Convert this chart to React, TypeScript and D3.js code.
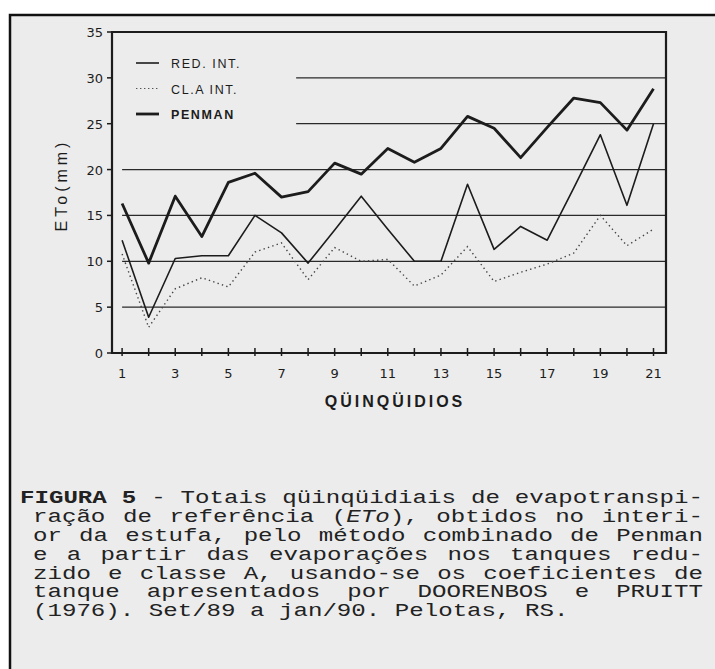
import React, { useEffect, useRef } from "react";
import * as d3 from "d3";

// quinquidios (5-day periods), Set/89 - jan/90
const periods = [1, 2, 3, 4, 5, 6, 7, 8, 9, 10, 11, 12, 13, 14, 15, 16, 17, 18, 19, 20, 21];
const redInt = [12.3, 3.9, 10.3, 10.6, 10.6, 15.0, 13.1, 9.8, 13.4, 17.1, 13.5, 10.0, 10.0, 18.4, 11.3, 13.8, 12.3, 18.0, 23.8, 16.1, 25.0];
const clAInt = [10.8, 2.8, 7.0, 8.2, 7.2, 11.0, 12.0, 8.0, 11.5, 10.0, 10.2, 7.3, 8.5, 11.6, 7.8, 8.8, 9.7, 10.9, 15.0, 11.7, 13.5];
const penman = [16.3, 9.8, 17.1, 12.7, 18.6, 19.6, 17.0, 17.6, 20.7, 19.5, 22.3, 20.8, 22.3, 25.8, 24.5, 21.3, 24.6, 27.8, 27.3, 24.3, 28.8];

const yTicks = [0, 5, 10, 15, 20, 25, 30, 35];
const xTickLabels = [1, 3, 5, 7, 9, 11, 13, 15, 17, 19, 21];
const gridValues = [5, 10, 15, 20, 25, 30];

const legendItems = ["RED. INT.", "CL.A INT.", "PENMAN"];

const captionLines = [
  "FIGURA 5 - Totais qüinqüidiais de evapotranspi-",
  "ração de referência (ETo), obtidos no interi-",
  "or da estufa, pelo método combinado de Penman",
  "e a partir das evaporações nos tanques redu-",
  "zido e classe A, usando-se os coeficientes de",
  "tanque apresentados por DOORENBOS e PRUITT",
  "(1976). Set/89 a jan/90. Pelotas, RS.",
];

const ink = "#1c1c1c";

export default function App() {
  const ref = useRef<SVGSVGElement>(null);

  useEffect(() => {
    const svg = d3.select(ref.current);
    svg.selectAll("*").remove();

    // page + frame
    svg.append("rect").attr("width", 715).attr("height", 669).attr("fill", "#ffffff");
    svg.append("rect").attr("x", 10).attr("y", 15).attr("width", 715).attr("height", 669)
      .attr("fill", "#ececec").attr("stroke", "#111").attr("stroke-width", 2.5);

    const x = d3.scaleLinear().domain([0.62, 21.47]).range([112, 666]);
    const y = d3.scaleLinear().domain([0, 35]).range([353, 32]);

    // grid lines (upper ones start after the legend)
    svg.append("g").selectAll("line").data(gridValues).enter().append("line")
      .attr("x1", d => (d >= 25 ? x(7.55) : x(1)))
      .attr("x2", x(21.47))
      .attr("y1", d => y(d)).attr("y2", d => y(d))
      .attr("stroke", "#2a2a2a").attr("stroke-width", 1.3);

    // frame of plot
    svg.append("path")
      .attr("d", `M${x(0.62)},${y(0)}V${y(35)}H${x(21.47)}V${y(0)}Z`)
      .attr("fill", "none").attr("stroke", ink).attr("stroke-width", 2.2);

    // y ticks
    const yg = svg.append("g");
    yg.selectAll("line").data(yTicks).enter().append("line")
      .attr("x1", x(0.62) - 5).attr("x2", x(0.62))
      .attr("y1", d => y(d)).attr("y2", d => y(d))
      .attr("stroke", ink).attr("stroke-width", 1.5);
    yg.selectAll("text").data(yTicks).enter().append("text")
      .attr("x", x(0.62) - 9).attr("y", d => y(d) + 5)
      .attr("text-anchor", "end")
      .attr("font-family", "DejaVu Sans, sans-serif").attr("font-size", 13)
      .attr("fill", ink)
      .text(d => d);

    // x ticks
    const xg = svg.append("g");
    xg.selectAll("line").data(periods).enter().append("line")
      .attr("x1", d => x(d)).attr("x2", d => x(d))
      .attr("y1", y(0) - 5).attr("y2", y(0) + 3)
      .attr("stroke", ink).attr("stroke-width", 1.5);
    xg.selectAll("text").data(xTickLabels).enter().append("text")
      .attr("x", d => x(d)).attr("y", y(0) + 25)
      .attr("text-anchor", "middle")
      .attr("font-family", "DejaVu Sans, sans-serif").attr("font-size", 13)
      .attr("fill", ink)
      .text(d => d);

    // axis titles
    svg.append("text")
      .attr("transform", `translate(67,185) rotate(-90)`)
      .attr("text-anchor", "middle")
      .attr("font-family", "Liberation Sans, Arial, sans-serif").attr("font-size", 16)
      .attr("letter-spacing", 4)
      .attr("fill", ink)
      .text("ETo(mm)");
    svg.append("text")
      .attr("x", 395).attr("y", 407)
      .attr("text-anchor", "middle")
      .attr("font-family", "Liberation Sans, Arial, sans-serif").attr("font-size", 16)
      .attr("font-weight", "bold").attr("letter-spacing", 3)
      .attr("fill", ink)
      .text("QÜINQÜIDIOS");

    // series
    const line = d3.line<number>()
      .x((d, i) => x(periods[i]))
      .y(d => y(d));

    svg.append("path").datum(clAInt).attr("d", line)
      .attr("fill", "none").attr("stroke", "#444").attr("stroke-width", 1.4)
      .attr("stroke-dasharray", "1.4,3.2");
    svg.append("path").datum(redInt).attr("d", line)
      .attr("fill", "none").attr("stroke", ink).attr("stroke-width", 1.6)
      .attr("stroke-linejoin", "round");
    svg.append("path").datum(penman).attr("d", line)
      .attr("fill", "none").attr("stroke", ink).attr("stroke-width", 2.8)
      .attr("stroke-linejoin", "round");

    // legend
    const legendStyles = [
      { w: 1.6, dash: null, color: ink },
      { w: 1.2, dash: "1.4,2.6", color: "#555" },
      { w: 2.8, dash: null, color: ink },
    ];
    const lg = svg.append("g");
    legendItems.forEach((name, i) => {
      const ly = 63 + i * 25.5;
      const s = legendStyles[i];
      const l = lg.append("line")
        .attr("x1", 136).attr("x2", 159).attr("y1", ly).attr("y2", ly)
        .attr("stroke", s.color).attr("stroke-width", s.w);
      if (s.dash) l.attr("stroke-dasharray", s.dash);
      lg.append("text")
        .attr("x", 171).attr("y", ly + 5)
        .attr("font-family", "Liberation Sans, Arial, sans-serif").attr("font-size", 12.5)
        .attr("font-weight", i === 2 ? "bold" : "normal")
        .attr("letter-spacing", 1.6)
        .attr("fill", ink)
        .text(name);
    });

    // caption: monospace, stretched horizontally like the scan, justified word by word
    const sx = 1.34;
    const fs = 18;
    const cell = fs * 0.6 * sx;
    const rightEdge = 703;
    const cg = svg.append("g").attr("transform", `scale(${sx},1)`);
    captionLines.forEach((txt, i) => {
      const x0 = i === 0 ? 20 : 33;
      const words = txt.split(" ");
      const chars = words.reduce((s, w) => s + w.length, 0);
      const last = i === captionLines.length - 1;
      const gap = last ? cell : (rightEdge - x0 - chars * cell) / (words.length - 1);
      const t = cg.append("text")
        .attr("y", 503 + i * 18.9)
        .attr("font-family", "Liberation Mono, Courier New, monospace").attr("font-size", fs)
        .attr("fill", "#222");
      let cx = x0;
      words.forEach((w, j) => {
        const ts = t.append("tspan").attr("x", cx / sx);
        if (i === 0 && j < 2) ts.attr("font-weight", "bold");
        if (w.includes("ETo")) {
          ts.text("(");
          t.append("tspan").attr("font-style", "italic").text("ETo");
          t.append("tspan").text("),");
        } else {
          ts.text(w);
        }
        cx += w.length * cell + gap;
      });
    });
  }, []);

  return (
    <svg
      ref={ref}
      width={715}
      height={669}
      style={{ position: "absolute", left: 0, top: 0, display: "block" }}
    />
  );
}
